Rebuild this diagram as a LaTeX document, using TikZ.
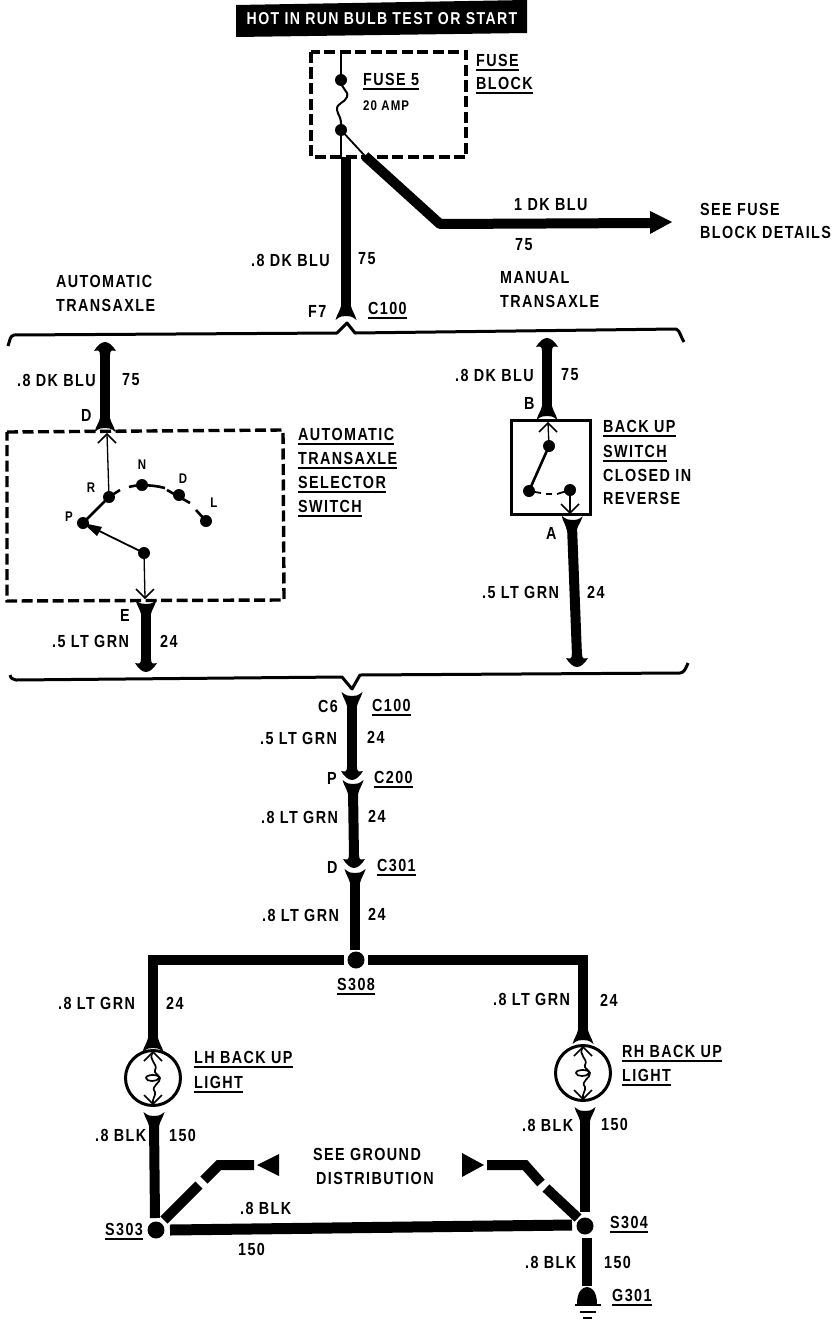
\documentclass[tikz,border=0pt]{standalone}
\usepackage{fontspec}
\setmainfont{Liberation Sans}[BoldFont={Liberation Sans Bold},FakeStretch=0.82,LetterSpace=8]
\usetikzlibrary{calc}
\tikzset{
  lbl/.style={inner sep=0pt,anchor=mid west,font=\fontsize{17.5}{18}\selectfont\bfseries,text=black},
  sml/.style={inner sep=0pt,anchor=center,font=\fontsize{14}{14}\selectfont\bfseries,text=black},
  wire/.style={line width=10pt,draw=black},
  thin wire/.style={line width=1.3pt,draw=black},
  sw arc/.style={line width=2.6pt,draw=black},
  ul/.style={line width=2.2pt,draw=black},
  brk/.style={line width=3pt,draw=black,line join=round},
  dbox/.style={line width=3.4pt,draw=black,dash pattern=on 11pt off 4.5pt},
  dot/.style={circle,fill=black,inner sep=0pt,minimum size=12pt},
  bigdot/.style={circle,fill=black,inner sep=0pt,minimum size=17pt},
  pics/cupend/.style={code={\fill (-10.5,-4) .. controls (-6,0) and (-3,0) .. (0,0) .. controls (3,0) and (6,0) .. (10.5,-4) .. controls (9,2) and (6,5) .. (5,10) -- (-5,10) .. controls (-6,5) and (-9,2) .. (-10.5,-4) -- cycle;}},
  pics/arrowend/.style={code={\fill (0,0) .. controls (4,0) and (8,-4) .. (11,-9) .. controls (7,-8) and (5,-8) .. (5,-13) -- (-5,-13) .. controls (-5,-8) and (-7,-8) .. (-11,-9) .. controls (-8,-4) and (-4,0) .. (0,0) -- cycle;}},
  pics/openhead/.style={code={\draw[line width=1.5pt] (-9,9) -- (0,0) -- (9,9);}},
  pics/filament/.style={code={\draw[line width=1.7pt] (0,-26) .. controls (-6,-18) and (6,-14) .. (2,-8) .. controls (0,-5) and (7,-3) .. (6,0) .. controls (5,4) and (-7,4) .. (-7,0) .. controls (-7,-4) and (6,-4) .. (7,0) .. controls (8,5) and (-3,8) .. (2,14) .. controls (3,18) and (-1,20) .. (0,26);}}
}
\newcommand\lb[4]{\node[lbl] (#1) at ({#2},{#3+4}) {#4};}
\newcommand\ulb[4]{\node[lbl] (#1) at ({#2},{#3+4}) {#4}; \draw[ul] ($(#1.mid west)+(0,6)$) -- ($(#1.mid east)+(0,6)$);}
\begin{document}
\begin{tikzpicture}[x=1pt,y=-1pt]
\useasboundingbox (0,0) rectangle (832,1322);
\fill[white] (0,0) rectangle (832,1322);
% banner
\fill[black] (236,5) -- (527,0) -- (527,33) -- (236,37) -- cycle;
\node[inner sep=0pt,font=\fontsize{17.2}{18}\selectfont\bfseries,text=white] (banner) at (382,19) {HOT IN RUN BULB TEST OR START};
% fuse block
\draw[dbox] (311,52) rectangle (466,157);
\node[dot] (fuseA) at (341,80) {};
\node[dot] (fuseB) at (341,130) {};
\coordinate (fuseTop) at (341,52);
\coordinate (fuseBot) at (341,157);
\draw[thin wire,line width=2pt] (fuseTop) -- (fuseA.center);
\draw[thin wire,line width=2pt] (fuseA.center) .. controls (341,90) and (349,90) .. (347,97) .. controls (345,103) and (336,103) .. (337,110) .. controls (338,116) and (342,116) .. (fuseB.center);
\draw[thin wire,line width=2.5pt] (fuseB.center) -- (fuseBot);
\coordinate (wireDiag0) at (365,156);
\draw[thin wire,line width=1.8pt] (fuseB.center) -- (wireDiag0);
\coordinate (mainTop) at (346,157);
\coordinate (f7) at (346,306);
\draw[wire] (mainTop) -- (f7);
\pic[rotate=180] at (346,316) {cupend};
\coordinate (bend) at (440,224);
\coordinate (arrBase) at (651,223);
\draw[wire,line join=round] (wireDiag0) -- (bend) -- (arrBase);
\fill (650,211) -- (672,222) -- (650,234) -- cycle;
\ulb{tFuse}{476}{60}{FUSE}
\ulb{tBlock}{476}{83}{BLOCK}
\ulb{tFuse5}{363}{79}{FUSE 5}
\node[lbl,font=\fontsize{14}{14}\selectfont\bfseries] (t20) at (363,108) {20 AMP};
\lb{tBlu1}{514}{204}{1 DK BLU}
\lb{t75a}{515}{244}{75}
\lb{tSee}{700}{209}{SEE FUSE}
\lb{tDet}{700}{232}{BLOCK DETAILS}
\lb{tBlu2}{251}{260}{.8 DK BLU}
\lb{t75b}{358}{258}{75}
\lb{tF7}{308}{311}{F7}
\ulb{tC100a}{368}{308}{C100}
\lb{tAuto}{56}{281}{AUTOMATIC}
\lb{tTrans}{56}{305}{TRANSAXLE}
\lb{tMan}{500}{277}{MANUAL}
\lb{tTrans2}{500}{301}{TRANSAXLE}
% brackets
\draw[brk] (8,346) .. controls (10,340) and (10,336) .. (14,335) -- (337,333) -- (347,323) -- (355,333) -- (676,329) .. controls (680,330) and (681,338) .. (684,342);
\draw[brk] (10,675) .. controls (11,679) and (13,679) .. (16,680) -- (342,677) -- (352,689) -- (360,675) -- (680,673) .. controls (684,673) and (686,668) .. (688,663);
% automatic branch
\pic at (105,342) [rotate=180] {arrowend};
\coordinate (dTop) at (105,352);
\coordinate (dBot) at (105,420);
\draw[wire] (dTop) -- (dBot);
\pic[rotate=180] at (105,428) {cupend};
\lb{tBlu3}{17}{380}{.8 DK BLU}
\lb{t75c}{122}{379}{75}
\lb{tD}{81}{415}{D}
\draw[dbox] (7,432) -- (283,430) -- (284,600) -- (7,601) -- cycle;
\ulb{tA1}{298}{434}{AUTOMATIC}
\ulb{tA2}{298}{458}{TRANSAXLE}
\ulb{tA3}{298}{482}{SELECTOR}
\ulb{tA4}{298}{506}{SWITCH}
\node[dot] (pP) at (83,523) {};
\node[dot] (pR) at (109,497) {};
\node[dot] (pN) at (142,485) {};
\node[dot] (pD) at (179,495) {};
\node[dot] (pL) at (206,521) {};
\node[dot] (pC) at (144,553) {};
\coordinate (dIn) at (107,434);
\coordinate (eIn) at (145,598);
\draw[thin wire] (pR.center) -- (dIn);
\pic at (dIn) {openhead};
\draw[thin wire] (pC.center) -- (eIn);
\pic[rotate=180] at (eIn) {openhead};
\draw[sw arc] (pP.center) -- (pR.center) -- (120,490);
\draw[sw arc] (129,487) .. controls (135,485) and (150,484) .. (165,488);
\draw[sw arc] (167,490) -- (190,503);
\draw[sw arc] (196,510) -- (pL.center);
\draw[thin wire,line width=1.8pt] (pC.center) -- (pP.center);
\fill (83,523) -- (102,527) -- (97,536) -- cycle;
\node[sml] (lN) at (142,465) {N};
\node[sml] (lR) at (91,488) {R};
\node[sml] (lP) at (69,517) {P};
\node[sml] (lD) at (183,479) {D};
\node[sml] (lL) at (214,503) {L};
\pic at (146,604) {cupend};
\coordinate (eTop) at (146,610);
\coordinate (eBot) at (146,660);
\draw[wire] (eTop) -- (eBot);
\pic at (146,672) {arrowend};
\lb{tE}{120}{615}{E}
\lb{tGrn1}{52}{641}{.5 LT GRN}
\lb{t24a}{160}{641}{24}
% manual branch
\pic[rotate=180] at (547,338) {arrowend};
\coordinate (bTop) at (547,348);
\coordinate (bBot) at (547,408);
\draw[wire] (bTop) -- (bBot);
\pic[rotate=180] at (547,416) {cupend};
\lb{tBlu4}{455}{375}{.8 DK BLU}
\lb{t75d}{561}{374}{75}
\lb{tB}{524}{403}{B}
\draw[line width=3pt] (511,420) rectangle (590,514);
\node[dot] (mA) at (549,446) {};
\node[dot] (mB) at (529,491) {};
\node[dot] (mC) at (570,490) {};
\coordinate (bIn) at (548,423);
\coordinate (aIn) at (570,513);
\draw[thin wire] (mA.center) -- (bIn);
\pic at (bIn) {openhead};
\draw[sw arc] (mA.center) -- (mB.center);
\draw[thin wire,line width=1.8pt] (mB.center) -- (541,493);
\draw[thin wire,line width=1.8pt] (546,494) -- (552,494);
\draw[thin wire,line width=1.8pt] (557,494) -- (mC.center);
\draw[thin wire,line width=1.8pt] (mC.center) -- (aIn);
\pic[rotate=180] at (aIn) {openhead};
\pic[rotate=-2] at (572,520) {cupend};
\coordinate (aTop) at (572,526);
\coordinate (aBot) at (577,656);
\draw[wire] (aTop) -- (aBot);
\pic at (577,667) {arrowend};
\lb{tA}{546}{533}{A}
\lb{tGrn2}{482}{592}{.5 LT GRN}
\lb{t24b}{587}{592}{24}
\ulb{tM1}{603}{426}{BACK UP}
\ulb{tM2}{603}{451}{SWITCH}
\lb{tM3}{603}{475}{CLOSED IN}
\lb{tM4}{603}{498}{REVERSE}
% centre column
\pic at (352,696) {cupend};
\coordinate (c1a) at (352,702);
\coordinate (c1b) at (352,768);
\draw[wire] (c1a) -- (c1b);
\pic at (352,780) {arrowend};
\pic at (353,784) {cupend};
\coordinate (c2a) at (353,790);
\coordinate (c2b) at (354,857);
\draw[wire] (c2a) -- (c2b);
\pic at (354,868) {arrowend};
\pic at (355,873) {cupend};
\coordinate (c3a) at (355,880);
\node[bigdot] (s308) at (356,960) {};
\draw[wire] (c3a) -- (355,950);
\lb{tC6}{318}{706}{C6}
\ulb{tC100b}{372}{705}{C100}
\lb{tGrn3}{260}{738}{.5 LT GRN}
\lb{t24c}{367}{737}{24}
\lb{tPc}{327}{778}{P}
\ulb{tC200}{374}{777}{C200}
\lb{tGrn4}{261}{817}{.8 LT GRN}
\lb{t24d}{368}{816}{24}
\lb{tDc}{327}{867}{D}
\ulb{tC301}{377}{865}{C301}
\lb{tGrn5}{262}{915}{.8 LT GRN}
\lb{t24e}{368}{914}{24}
\ulb{tS308}{337}{984}{S308}
% distribution
\coordinate (cornerL) at (153,960);
\coordinate (cornerR) at (583,960);
\coordinate (lhTop) at (153,1040);
\coordinate (rhTop) at (583,1032);
\draw[wire,line join=miter] ($(s308)+(-12,0)$) -- (cornerL) -- (lhTop);
\draw[wire,line join=miter] ($(s308)+(12,0)$) -- (cornerR) -- (rhTop);
\pic[rotate=180] at (153,1048) {cupend};
\pic[rotate=180] at (583,1040) {cupend};
% lamps
\node[circle,draw=black,line width=3pt,inner sep=0pt,minimum size=55pt] (lhLamp) at (153,1078) {};
\node[circle,draw=black,line width=3pt,inner sep=0pt,minimum size=55pt] (rhLamp) at (583,1073) {};
\pic at (153,1078) {filament};
\pic at (583,1073) {filament};
\pic at (153,1052) {openhead};
\pic at (583,1047) {openhead};
\pic[rotate=180] at (153,1104) {openhead};
\pic[rotate=180] at (583,1099) {openhead};
\pic at (154,1116) {cupend};
\pic at (585,1111) {cupend};
\node[bigdot] (s303) at (156,1230) {};
\node[bigdot] (s304) at (585,1226) {};
\draw[wire] (154,1122) -- (155,1218);
\draw[wire] (585,1117) -- (585,1212);
\draw[wire,line width=11pt] ($(s303)+(14,0)$) -- ($(s304)+(-13,-1)$);
\coordinate (gl1) at (199,1185);
\coordinate (gl2) at (204,1180);
\coordinate (gl3) at (219,1165);
\coordinate (gl4) at (254,1165);
\draw[wire] (164,1220) -- (gl1);
\draw[wire,line join=miter] (gl2) -- (gl3) -- (gl4);
\fill (257,1165) -- (279,1154) -- (279,1176) -- cycle;
\coordinate (gr1) at (487,1165);
\coordinate (gr2) at (525,1165);
\coordinate (gr3) at (541,1183);
\coordinate (gr4) at (546,1188);
\draw[wire,line join=miter] (gr1) -- (gr2) -- (gr3);
\draw[wire] (gr4) -- (578,1218);
\fill (484,1165) -- (462,1153) -- (462,1177) -- cycle;
\coordinate (g1) at (587,1238);
\coordinate (g2) at (587,1286);
\draw[wire] (g1) -- (g2);
\fill (577,1304) .. controls (577,1292) and (582,1287) .. (587,1287) .. controls (592,1287) and (597,1292) .. (597,1304) -- cycle;
\coordinate (gb1) at (575,1305); \coordinate (gb2) at (601,1305);
\coordinate (gc1) at (580,1312); \coordinate (gc2) at (596,1312);
\coordinate (gd1) at (583,1318); \coordinate (gd2) at (592,1318);
\draw[line width=2.5pt] (gb1) -- (gb2);
\draw[line width=2.5pt] (gc1) -- (gc2);
\draw[line width=2.5pt] (gd1) -- (gd2);
\lb{tGrn6}{58}{1003}{.8 LT GRN}
\lb{t24f}{166}{1003}{24}
\lb{tGrn7}{493}{999}{.8 LT GRN}
\lb{t24g}{600}{1000}{24}
\ulb{tLH1}{194}{1057}{LH BACK UP}
\ulb{tLH2}{194}{1082}{LIGHT}
\ulb{tRH1}{622}{1051}{RH BACK UP}
\ulb{tRH2}{622}{1075}{LIGHT}
\lb{tBlk1}{95}{1135}{.8 BLK}
\lb{t150a}{169}{1135}{150}
\lb{tBlk2}{522}{1125}{.8 BLK}
\lb{t150b}{601}{1124}{150}
\lb{tGr1}{313}{1154}{SEE GROUND}
\lb{tGr2}{316}{1178}{DISTRIBUTION}
\lb{tBlk3}{240}{1208}{.8 BLK}
\lb{t150c}{238}{1249}{150}
\ulb{tS303}{105}{1229}{S303}
\ulb{tS304}{610}{1222}{S304}
\lb{tBlk4}{525}{1262}{.8 BLK}
\lb{t150d}{604}{1262}{150}
\ulb{tG301}{612}{1295}{G301}
\end{tikzpicture}
\end{document}
